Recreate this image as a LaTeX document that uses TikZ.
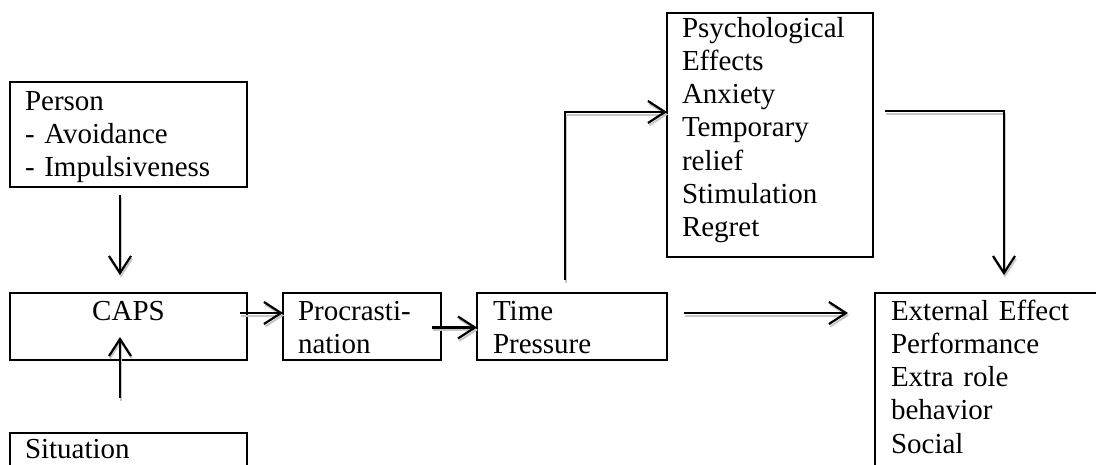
\documentclass[tikz,border=0pt]{standalone}
\usepackage{fontspec}
\setmainfont{Liberation Serif}
\usetikzlibrary{arrows.meta,calc}
\begin{document}
\begin{tikzpicture}[x=1pt,y=-1pt,
  box/.style={draw, line width=2pt, outer sep=0pt, inner ysep=0pt, anchor=north west,
    align=left, font=\fontsize{29}{33.3}\selectfont},
  arr/.style={line width=2.2pt, -{Straight Barb[length=17pt,width=22pt]},
    preaction={draw=black!22, line width=2pt, transform canvas={shift={(1pt,-2.5pt)}}}}]
\useasboundingbox (0,0) rectangle (1096,464);
\clip (0,0) rectangle (1096,464);
% boxes
\node[box, inner xsep=15pt, text width=207pt, text height=28pt, text depth=77pt]
  (person) at (10,82) {Person\\- Avoidance\\- Impulsiveness};
\node[box, inner xsep=15pt, text width=207pt, text height=27pt, text depth=40pt, align=center]
  (caps) at (10,293) {CAPS};
\node[box, inner xsep=15pt, text width=207pt, text height=25pt, text depth=42pt]
  (sit) at (10,433) {Situation};
\node[box, inner xsep=15pt, text width=128pt, text height=27pt, text depth=40pt]
  (proc) at (283,293) {Procrasti-\\nation};
\node[box, inner xsep=16pt, text width=158pt, text height=27pt, text depth=40pt]
  (time) at (477,293) {Time\\Pressure};
\node[box, inner xsep=15pt, text width=176pt, text height=24pt, text depth=220pt]
  (psych) at (667,13) {Psychological\\Effects\\Anxiety\\Temporary\\relief\\Stimulation\\Regret};
\node[box, inner xsep=16pt, text width=250pt, text height=27pt, text depth=173pt]
  (ext) at (875,293) {External Effect\\Performance\\Extra role\\behavior\\Social};
% connectors
\draw[arr] ($(person.south)+(-8.5,8)$) -- ($(caps.north)+(-8.5,-18)$);
\draw[arr] ($(sit.north)+(-8.5,-35)$) -- ($(caps.south)+(-8.5,-23)$);
\draw[arr] ($(caps.east)+(-7,-13.5)$) -- ($(proc.west)+(0,-13.5)$);
\draw[arr] ($(proc.east)+(-9,1)$) -- ($(time.west)+(0,1)$);
\draw[arr] ($(time.north west)+(88,-13)$) |- ($(psych.north west)+(0,99)$);
\draw[arr] ($(psych.north east)+(12,98)$) -| ($(ext.north west)+(129,-18)$);
\draw[arr] ($(time.east)+(17,-13.5)$) -- ($(ext.north west)+(-27,20)$);
\end{tikzpicture}
\end{document}
